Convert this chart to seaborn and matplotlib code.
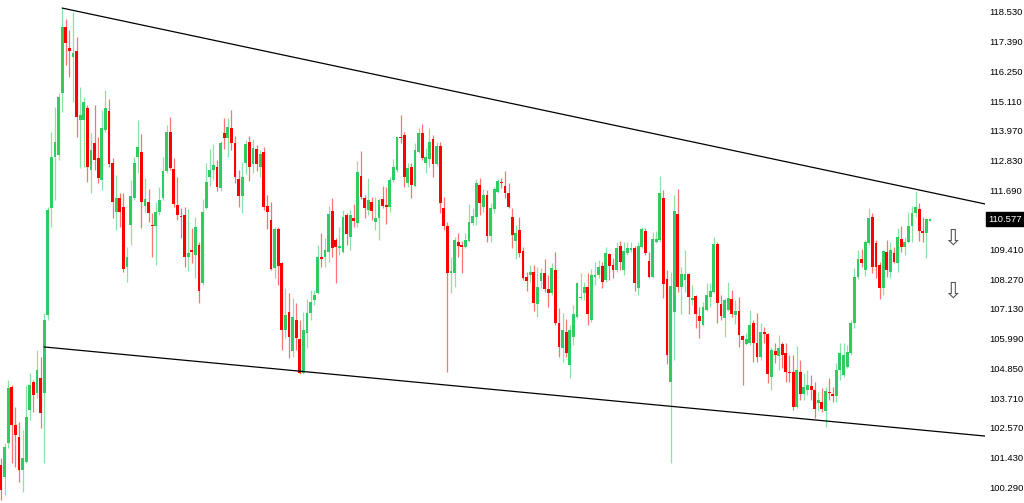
import numpy as np
import pandas as pd
import seaborn as sns
import matplotlib.pyplot as plt
import matplotlib.transforms as mtransforms

# daily candles (oldest -> newest)
opens = [
    101.14, 100.68, 101.98, 104.13, 102.67, 102.21, 100.95, 101.25, 103.25, 104.33,
    103.90, 104.48, 103.90, 106.90, 111.00, 112.96, 113.04, 115.42, 117.95, 117.15,
    116.80, 117.03, 114.38, 114.38, 114.84, 112.46, 113.50, 112.92, 112.08, 114.00,
    114.73, 112.73, 110.85, 111.39, 111.04, 108.74, 110.35, 111.39, 112.96, 113.15,
    111.08, 111.24, 110.35, 110.31, 110.85, 111.39, 112.43, 113.92, 112.50, 111.12,
    110.70, 110.74, 109.12, 109.39, 109.20, 109.58, 108.13, 111.00, 112.19, 112.46,
    112.58, 111.77, 113.88, 113.69, 114.08, 113.50, 112.12, 111.47, 112.73, 113.54,
    112.69, 113.27, 112.58, 113.15, 111.08, 110.54, 108.70, 110.20, 108.89, 106.32,
    107.01, 105.52, 106.71, 105.98, 104.67, 106.21, 106.97, 107.47, 107.74, 109.12,
    109.12, 109.32, 110.89, 109.78, 109.47, 109.32, 110.74, 109.89, 110.62, 110.43,
    112.23, 111.39, 110.93, 111.24, 110.47, 110.62, 111.35, 111.12, 111.04, 112.08,
    112.46, 113.73, 113.81, 111.96, 112.58, 111.85, 113.15, 113.88, 112.73, 112.89,
    113.65, 112.69, 113.39, 111.00, 110.31, 108.51, 108.51, 109.70, 109.58, 109.51,
    109.74, 110.43, 110.66, 111.89, 111.04, 111.50, 109.93, 110.97, 111.62, 112.00,
    111.85, 111.58, 110.66, 109.74, 110.16, 109.35, 108.36, 108.43, 108.55, 107.32,
    108.20, 108.51, 107.90, 107.74, 108.62, 106.59, 105.63, 106.24, 104.98, 106.05,
    106.82, 107.55, 107.74, 107.97, 106.71, 108.36, 108.43, 108.78, 108.24, 109.24,
    108.82, 108.62, 109.55, 108.62, 109.28, 109.39, 109.47, 107.93, 109.51, 110.12,
    108.97, 108.36, 109.70, 109.78, 111.39, 108.28, 104.33, 107.01, 110.77, 107.97,
    108.24, 108.47, 107.47, 107.63, 106.86, 106.51, 107.09, 107.59, 107.78, 109.62,
    107.32, 106.78, 107.09, 107.51, 106.90, 107.05, 106.09, 105.78, 105.82, 106.59,
    105.82, 105.28, 106.24, 106.17, 104.52, 105.52, 105.32, 105.78, 105.44, 104.71,
    104.71, 103.37, 104.71, 103.86, 104.02, 104.17, 104.02, 103.52, 103.56, 103.21,
    103.94, 103.86, 103.79, 104.79, 104.59, 104.90, 105.44, 106.59, 108.36, 109.05,
    108.62, 109.66, 110.66, 109.66, 108.82, 107.93, 109.32, 108.55, 109.28, 108.89,
    109.81, 109.51, 109.70, 110.31, 110.81, 110.97, 110.12, 110.05, 110.51,
]
highs = [
    101.41, 101.98, 104.40, 104.21, 103.37, 102.79, 102.48, 104.21, 104.67, 104.40,
    105.55, 105.28, 106.97, 111.04, 113.92, 114.88, 115.42, 118.68, 118.26, 117.84,
    118.53, 117.57, 115.65, 115.27, 114.96, 113.88, 114.96, 113.73, 114.77, 115.53,
    115.19, 112.92, 112.27, 111.58, 111.58, 109.51, 112.08, 112.96, 114.38, 113.85,
    112.16, 111.73, 110.81, 111.24, 111.81, 112.96, 114.19, 114.50, 112.92, 112.19,
    111.00, 111.04, 110.97, 110.24, 110.66, 109.70, 111.35, 112.73, 113.27, 113.46,
    112.85, 113.58, 114.46, 114.46, 114.77, 113.77, 112.46, 112.77, 113.62, 113.77,
    113.65, 113.42, 113.23, 113.35, 111.50, 111.24, 110.28, 110.28, 108.93, 107.93,
    107.74, 107.55, 107.36, 106.71, 107.01, 107.51, 107.86, 107.86, 109.58, 110.05,
    109.85, 111.08, 111.39, 109.85, 110.28, 110.93, 110.81, 110.93, 111.16, 112.81,
    113.19, 111.50, 112.16, 111.43, 111.43, 111.39, 111.85, 111.81, 112.19, 112.89,
    113.73, 114.58, 113.92, 112.73, 112.73, 113.50, 114.08, 114.23, 113.31, 114.08,
    113.81, 113.54, 113.54, 111.43, 110.47, 109.12, 109.89, 110.05, 109.74, 110.05,
    111.16, 111.00, 112.12, 112.16, 111.73, 111.70, 111.20, 111.81, 112.12, 112.16,
    112.43, 111.96, 111.00, 110.35, 110.66, 109.51, 108.55, 108.82, 108.82, 108.74,
    108.70, 109.05, 108.43, 108.89, 109.32, 107.17, 106.97, 106.74, 106.51, 107.28,
    108.16, 108.51, 108.16, 108.51, 108.66, 108.93, 109.01, 108.93, 109.51, 109.28,
    109.09, 109.70, 109.74, 109.70, 109.70, 109.70, 109.55, 109.70, 110.28, 110.24,
    109.32, 110.08, 110.12, 112.23, 111.70, 108.62, 108.55, 111.50, 111.73, 108.74,
    109.39, 108.51, 108.05, 107.66, 107.20, 107.40, 108.13, 108.13, 109.89, 109.70,
    107.66, 107.55, 108.16, 107.86, 107.47, 107.59, 106.13, 106.21, 107.09, 106.71,
    106.97, 106.59, 106.44, 106.21, 105.67, 105.82, 106.13, 105.86, 105.82, 105.36,
    105.36, 105.71, 105.17, 104.67, 104.79, 104.59, 104.33, 103.94, 104.09, 104.13,
    104.48, 104.13, 105.05, 105.82, 105.82, 105.75, 106.71, 108.70, 109.39, 109.43,
    109.78, 111.00, 110.81, 109.78, 108.93, 109.39, 109.78, 109.70, 109.51, 110.24,
    110.31, 109.89, 110.85, 111.08, 111.66, 111.20, 110.66, 110.62, 110.62,
]
lows = [
    99.79, 99.99, 101.79, 101.22, 101.06, 100.49, 100.10, 101.22, 102.87, 103.17,
    103.71, 102.56, 101.22, 106.71, 110.28, 111.31, 112.85, 114.69, 116.49, 116.03,
    115.07, 113.73, 112.54, 112.58, 112.00, 111.58, 112.46, 111.96, 111.70, 113.92,
    112.58, 110.62, 110.16, 110.28, 108.55, 108.16, 109.58, 111.31, 112.35, 110.24,
    110.85, 110.47, 109.12, 108.82, 110.74, 111.31, 112.35, 112.46, 111.04, 110.54,
    109.85, 108.74, 108.59, 108.89, 108.32, 107.36, 108.05, 110.97, 111.85, 112.08,
    111.66, 111.66, 113.27, 112.96, 113.23, 111.96, 111.04, 110.81, 112.31, 112.04,
    112.35, 112.43, 112.19, 110.93, 110.20, 108.62, 108.32, 108.05, 105.55, 106.01,
    105.25, 105.28, 105.55, 104.63, 104.63, 105.63, 106.71, 107.28, 107.70, 108.74,
    108.74, 108.93, 109.12, 108.13, 109.20, 109.28, 109.58, 109.39, 110.28, 110.28,
    111.35, 110.62, 110.74, 110.54, 110.16, 109.78, 111.00, 110.39, 110.85, 112.00,
    112.39, 113.50, 111.81, 111.81, 111.39, 111.81, 113.12, 112.85, 112.35, 112.58,
    112.19, 112.62, 110.81, 110.16, 104.71, 107.74, 107.97, 109.12, 108.51, 109.47,
    109.70, 110.35, 110.35, 110.74, 110.85, 109.70, 109.70, 110.81, 111.58, 111.77,
    111.39, 111.00, 109.47, 109.05, 109.12, 108.24, 107.82, 108.16, 107.05, 106.82,
    107.93, 107.78, 107.20, 107.66, 106.51, 105.28, 105.09, 105.28, 104.48, 105.75,
    106.78, 107.51, 107.47, 106.51, 106.63, 108.05, 108.32, 107.93, 108.16, 108.24,
    108.32, 108.55, 108.62, 108.43, 109.20, 109.32, 107.82, 107.66, 109.47, 109.20,
    108.32, 108.32, 109.66, 109.70, 107.55, 105.02, 101.22, 105.17, 107.78, 106.94,
    107.78, 106.94, 107.28, 106.40, 106.01, 106.47, 107.05, 107.20, 107.74, 106.59,
    106.71, 106.05, 107.05, 106.82, 106.55, 105.67, 104.21, 105.75, 105.75, 105.09,
    105.09, 105.17, 105.82, 104.29, 104.02, 105.05, 104.79, 104.86, 104.33, 104.33,
    103.25, 103.33, 103.63, 103.63, 103.83, 103.63, 102.94, 103.21, 103.17, 102.60,
    103.63, 103.56, 103.56, 104.40, 104.52, 104.86, 105.36, 106.40, 108.28, 108.74,
    108.39, 109.58, 108.51, 108.32, 107.51, 107.66, 108.36, 108.32, 108.89, 108.55,
    109.32, 109.20, 109.66, 109.70, 110.66, 109.74, 109.70, 109.09, 110.51,
]
closes = [
    100.18, 101.83, 104.09, 102.67, 102.29, 100.95, 101.41, 102.98, 104.21, 103.83,
    104.79, 103.13, 106.71, 110.93, 112.96, 113.54, 115.27, 117.95, 117.34, 117.03,
    116.96, 114.50, 114.58, 115.07, 112.58, 113.23, 112.85, 112.16, 114.08, 114.84,
    112.69, 111.24, 111.39, 110.85, 108.66, 109.12, 111.47, 112.73, 113.35, 111.24,
    111.35, 110.81, 110.31, 110.85, 111.31, 112.43, 113.92, 112.54, 111.16, 110.74,
    110.66, 109.12, 109.28, 109.32, 110.28, 107.82, 110.85, 112.00, 112.46, 112.66,
    111.81, 113.50, 113.69, 114.11, 113.50, 112.19, 111.47, 112.19, 113.46, 112.58,
    113.31, 112.69, 113.08, 111.04, 110.85, 108.66, 110.20, 108.78, 106.32, 106.90,
    106.05, 106.82, 106.01, 104.67, 106.32, 106.97, 107.40, 107.66, 109.12, 109.05,
    109.39, 110.77, 109.47, 109.51, 109.55, 110.66, 110.01, 110.74, 110.51, 112.39,
    111.43, 111.00, 111.31, 110.89, 110.62, 111.31, 111.08, 111.04, 112.08, 112.58,
    113.73, 113.69, 112.19, 112.54, 111.89, 113.23, 113.88, 112.92, 112.96, 113.54,
    112.69, 113.39, 111.20, 110.31, 108.51, 108.59, 109.78, 109.55, 109.51, 109.78,
    110.47, 110.70, 111.96, 111.20, 111.50, 109.93, 111.00, 111.73, 112.04, 111.96,
    111.58, 111.04, 109.97, 110.05, 109.28, 108.32, 108.20, 108.55, 107.36, 107.97,
    108.51, 107.90, 107.74, 108.70, 106.59, 105.67, 106.32, 105.44, 106.32, 106.94,
    108.13, 107.59, 107.97, 106.94, 108.43, 108.43, 108.74, 108.16, 109.28, 108.78,
    108.62, 109.47, 108.93, 109.35, 109.47, 109.47, 108.13, 109.55, 110.20, 109.28,
    108.36, 109.81, 109.81, 111.58, 108.09, 105.36, 108.01, 110.89, 107.97, 108.47,
    108.47, 107.59, 107.55, 106.94, 106.67, 107.20, 107.66, 107.82, 109.62, 107.36,
    106.86, 107.47, 107.55, 106.94, 107.05, 106.13, 105.94, 105.98, 106.51, 105.82,
    105.28, 106.24, 106.17, 104.63, 105.55, 105.36, 105.63, 105.36, 104.71, 104.67,
    103.37, 104.79, 103.86, 104.13, 104.21, 104.02, 103.29, 103.63, 103.29, 103.98,
    103.90, 103.79, 104.79, 105.44, 105.36, 105.48, 106.59, 108.36, 109.05, 108.89,
    109.70, 110.62, 108.74, 108.74, 107.93, 109.35, 108.62, 109.39, 108.93, 109.89,
    109.51, 109.70, 110.31, 110.81, 111.04, 110.12, 110.05, 110.58, 110.577,
]

# price scale on the right
price_ticks = [100.29, 101.43, 102.57, 103.71, 104.85, 105.99, 107.13, 108.27, 109.41,
               111.69, 112.83, 113.97, 115.11, 116.25, 117.39, 118.53]
last_price = 110.577

# channel lines (bar index, price)
upper_x = [17, 273.3]
upper_y = [118.68, 111.16]
lower_x = [12, 273.3]
lower_y = [105.67, 102.25]

# down arrows drawn on the chart
arrow_x = [264.2, 264.2]
arrow_y = [109.85, 107.78]

sns.set_style("white")
plt.rcParams['font.family'] = ['Liberation Sans', 'DejaVu Sans']

df = pd.DataFrame({'open': opens, 'high': highs, 'low': lows, 'close': closes})
df['bar'] = np.arange(len(df))
df['high'] = df[['high', 'open', 'close']].max(axis=1)
df['low'] = df[['low', 'open', 'close']].min(axis=1)
up = df['close'] >= df['open']
green = '#2ecc63'
red = '#ff0000'
cols = np.where(up, green, red)

fig = plt.figure(figsize=(10.24, 5.03), dpi=100)
ax = fig.add_axes([0, 0, 985 / 1024, 1])

# wicks and bodies
ax.vlines(df['bar'], df['low'], df['high'], colors=cols, lw=0.9, alpha=0.55)
body = (df['close'] - df['open']).abs().clip(lower=0.05)
bottom = df[['open', 'close']].min(axis=1)
ax.bar(df['bar'], body, bottom=bottom, width=0.78, color=cols, linewidth=0)

lines = pd.DataFrame({
    'x': upper_x + lower_x,
    'y': upper_y + lower_y,
    'line': ['upper', 'upper', 'lower', 'lower'],
})
sns.lineplot(data=lines, x='x', y='y', units='line', estimator=None,
             color='black', lw=0.9, ax=ax)

for xa, ya in zip(arrow_x, arrow_y):
    ax.text(xa, ya, '\u21e9', ha='center', va='center', fontsize=16,
            color='#555555', family='DejaVu Sans')

ax.set_xlim(-0.28, 273.3)
ax.set_ylim(99.68, 118.99)
ax.set_xticks([])
ax.yaxis.tick_right()
ax.set_yticks(price_ticks)
ax.set_yticklabels([f'{t:.3f}' for t in price_ticks])
ax.tick_params(axis='y', length=0, pad=3, labelsize=6.8, colors='black')
ax.set_xlabel('')
ax.set_ylabel('')
for s in ax.spines.values():
    s.set_visible(False)

trans = mtransforms.blended_transform_factory(ax.transAxes, ax.transData)
ax.text(1.003, last_price, f'{last_price:.3f}', transform=trans, ha='left', va='center',
        fontsize=6.8, color='white',
        bbox=dict(boxstyle='square,pad=0.25', fc='black', ec='black'))

fig.savefig('out.png', dpi=100, facecolor='white')
